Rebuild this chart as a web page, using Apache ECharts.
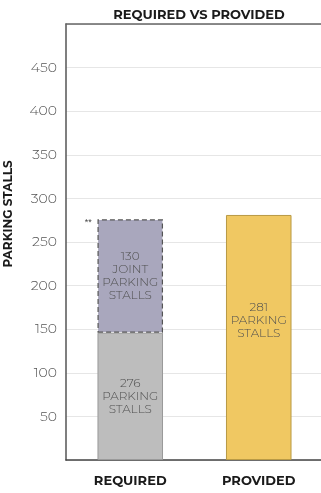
<!DOCTYPE html>
<html><head><meta charset="utf-8">
<script src="https://cdn.jsdelivr.net/npm/echarts@6/dist/echarts.min.js"></script>
<style>html,body{margin:0;padding:0;background:#fff}#c{width:321px;height:493px}</style>
</head><body><div id="c"></div>
<script>
const categories = ['REQUIRED', 'PROVIDED'];
const baseValues = [146, null];
const jointValues = [130, null];
const providedValues = [null, 281];
const baseLabels = ['276\nPARKING\nSTALLS', ''];
const jointLabels = ['130\nJOINT\nPARKING\nSTALLS', ''];
const providedLabels = ['', '281\nPARKING\nSTALLS'];
const yTicks = [50, 100, 150, 200, 250, 300, 350, 400, 450];

const font = 'Montserrat, "Open Sans", Lato, sans-serif';
const chart = echarts.init(document.getElementById('c'), null, {renderer: 'canvas'});
const labelStyle = {show: true, position: 'inside', color: '#505050', fontSize: 12, lineHeight: 13, fontFamily: font, fontWeight: 300};
chart.setOption({
  animation: false,
  title: {text: 'REQUIRED VS PROVIDED', left: 194, top: 4, textAlign: 'center',
    textStyle: {fontSize: 13, fontWeight: 'bold', color: '#1a1a1a', fontFamily: font}},
  grid: {left: 66, right: -2, top: 24, bottom: 33, containLabel: false, outerBoundsMode: 'none'},
  xAxis: [{type: 'category', data: categories,
    axisLine: {lineStyle: {color: '#444', width: 1.5}}, axisTick: {show: false},
    axisLabel: {color: '#1a1a1a', fontWeight: 'bold', fontSize: 13, margin: 15, fontFamily: font}},
    {type: 'category', data: categories, position: 'top',
    axisLine: {show: true, lineStyle: {color: '#666', width: 1.5}}, axisTick: {show: false},
    axisLabel: {show: false}}],
  yAxis: {type: 'value', min: 0, max: 500, interval: 50,
    name: 'PARKING STALLS', nameLocation: 'middle', nameGap: 52, nameRotate: 90,
    nameTextStyle: {fontWeight: 'bold', fontSize: 12, color: '#1a1a1a', fontFamily: font, padding: [0, 0, 0, 56]},
    axisLine: {show: true, lineStyle: {color: '#555', width: 1.5}}, axisTick: {show: false},
    splitLine: {lineStyle: {color: '#e6e6e6', width: 1}},
    axisLabel: {color: '#555', fontSize: 14, margin: 9, fontFamily: font, fontWeight: 300,
      formatter: v => yTicks.includes(v) ? String(v) : ''}},
  series: [
    {type: 'bar', stack: 'req', data: baseValues, barWidth: '51%',
      itemStyle: {color: '#bdbdbd', borderColor: '#9a9a9a', borderWidth: 1},
      label: Object.assign({}, labelStyle, {formatter: p => baseLabels[p.dataIndex]})},
    {type: 'bar', stack: 'req', data: jointValues, barWidth: '51%',
      itemStyle: {color: '#a9a7bd', borderColor: '#555', borderWidth: 1.2, borderType: [5, 3]},
      label: Object.assign({}, labelStyle, {formatter: p => jointLabels[p.dataIndex]}),
      markPoint: {symbol: 'circle', symbolSize: 0, silent: true,
        data: [{coord: ['REQUIRED', 276]}],
        label: {show: true, formatter: '**', color: '#444', fontSize: 9, offset: [-42, 3]}}},
    {type: 'bar', stack: 'pro', data: providedValues, barWidth: '51%', barGap: '-100%',
      itemStyle: {color: '#f0c862', borderColor: '#b99a45', borderWidth: 1},
      label: Object.assign({}, labelStyle, {offset: [0, -17], formatter: p => providedLabels[p.dataIndex]})}
  ]
});
</script></body></html>
